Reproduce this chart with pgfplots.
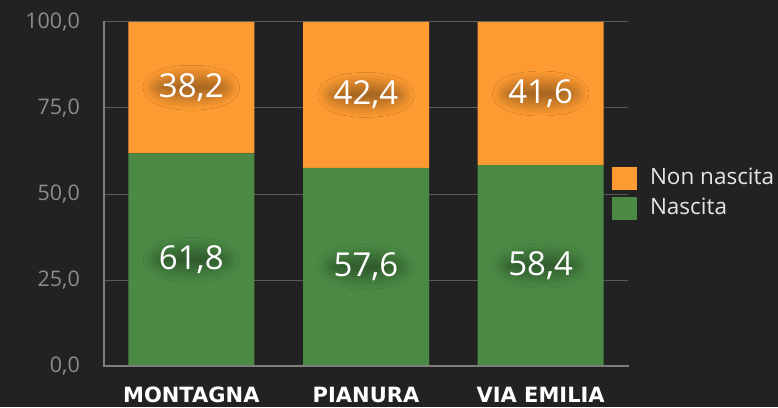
\documentclass[border=0pt]{standalone}
\usepackage{pgfplots}
\pgfplotsset{compat=1.18}
\usepackage{pgfplotstable}
\usepackage{fontspec}
\setmainfont{Open Sans}
\newfontfamily\catfont{DejaVu Sans}
\usetikzlibrary{shadows.blur,shapes.geometric}
\definecolor{bg}{HTML}{222222}
\definecolor{orng}{HTML}{FD9B32}
\definecolor{grn}{HTML}{4A8A44}
\definecolor{tickgray}{HTML}{8C8C8C}
\definecolor{gridgray}{HTML}{5A5A5A}
\definecolor{axgray}{HTML}{7E7E7E}
\definecolor{legtext}{HTML}{E6E6E6}

\pgfplotstableread{
x y lab
0 30.9 61,8
1 28.8 57,6
2 29.2 58,4
}\labgreen
\pgfplotstableread{
x y lab
0 80.9 38,2
1 78.8 42,4
2 79.2 41,6
}\laborange

\begin{document}
\begin{tikzpicture}[x=1pt,y=1pt]
\fill[bg] (0,0) rectangle (778,407);
\useasboundingbox (0,0) rectangle (778,407);
\begin{axis}[
  at={(104pt,41pt)}, anchor=south west,
  scale only axis, width=524pt, height=344pt,
  xmin=-0.5, xmax=2.5, ymin=0, ymax=100,
  ybar stacked, bar width=126pt,
  axis line style={draw=none},
  major tick length=0pt,
  xtick={0,1,2}, xticklabels={MONTAGNA,PIANURA,VIA EMILIA},
  ytick={0,25,50,75,100},
  ymajorgrids, grid style={gridgray, line width=1pt},
  /pgf/number format/assume math mode=true,
  yticklabel={\pgfmathprintnumber[fixed,fixed zerofill,precision=1,use comma,1000 sep={}]{\tick}},
  yticklabel style={text=tickgray, font=\fontsize{21.5}{21.5}\selectfont, anchor=east, inner sep=0pt, xshift=-24pt},
  xticklabel style={text=white, font=\catfont\bfseries\fontsize{21}{21}\selectfont, anchor=north, inner sep=0pt, yshift=-21pt},
  legend style={draw=none, fill=none, inner sep=0pt, outer sep=0pt,
    at={(0.9695,0.5785)}, anchor=north west,
    font=\fontsize{22.5}{22.5}\selectfont, text=legtext,
    cells={anchor=base west}, column sep=13pt, row sep=7pt,
    nodes={inner sep=0pt}},
  legend image code/.code={\fill[#1] (0pt,-5pt) rectangle (25pt,18pt);},
  reverse legend,
]
\addplot[fill=grn, draw=none] coordinates {(0,61.8) (1,57.6) (2,58.4)};
\addlegendentry{Nascita}
\addplot[fill=orng, draw=none] coordinates {(0,38.2) (1,42.4) (2,41.6)};
\addlegendentry{Non nascita}
\end{axis}
\begin{axis}[
  at={(104pt,41pt)}, anchor=south west,
  scale only axis, width=524pt, height=344pt,
  xmin=-0.5, xmax=2.5, ymin=0, ymax=100,
  axis x line=bottom, axis y line=left,
  axis line style={-, axgray, line width=2.6pt, line cap=rect},
  xtick=\empty, ytick=\empty,
  clip=false,
  nodes near coords, point meta=explicit symbolic,
  every node near coord/.style={anchor=center, text=white,
    font=\fontsize{33}{33}\selectfont, shape=ellipse, inner sep=-6pt,
    blur shadow={shadow xshift=0pt, shadow yshift=0pt, shadow blur radius=11pt, shadow opacity=34, shadow blur steps=16}},
]
\addplot[draw=none, mark=none] table[x=x, y=y, meta=lab] {\labgreen};
\addplot[draw=none, mark=none] table[x=x, y=y, meta=lab] {\laborange};
\end{axis}
\end{tikzpicture}
\end{document}
